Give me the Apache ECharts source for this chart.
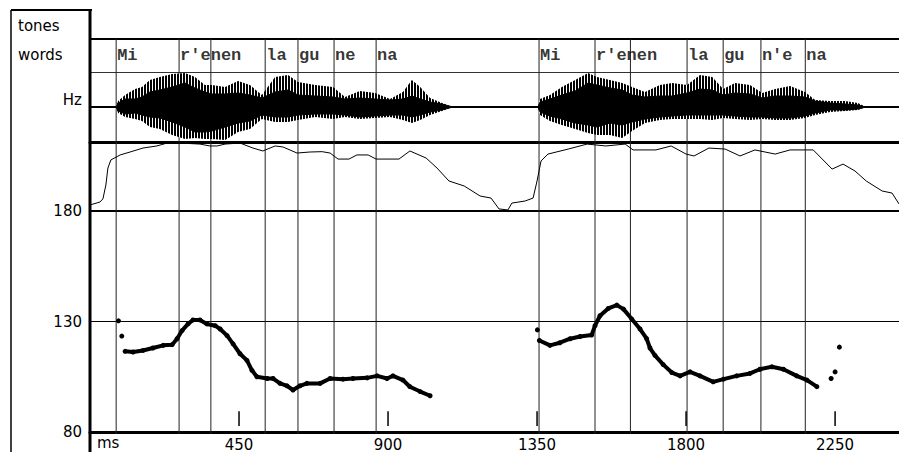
<!DOCTYPE html>
<html>
<head>
<meta charset="utf-8">
<script src="https://cdn.jsdelivr.net/npm/echarts@6/dist/echarts.min.js"></script>
<style>
  html, body { margin: 0; padding: 0; background: #fff; }
  #chart { width: 899px; height: 452px; }
</style>
</head>
<body>
<div id="chart"></div>
<script>
// time axis (ms)
const timeMax = 2443;
const tickMs = [450, 900, 1350, 1800, 2250];

// word boundaries and labels
const boundaryMs = [79, 269, 365, 529, 628, 737, 864, 1356, 1525, 1632, 1803, 1912, 2026, 2160];
const wordLabels = ['Mi', "r'enen", '', 'la', 'gu', 'ne', 'na', 'Mi', "r'enen", '', 'la', 'gu', "n'e", 'na'];

// waveform envelope (relative amplitude)
const waveMs = [0, 78, 85, 106, 136, 157, 181, 211, 248, 287, 317, 347, 368, 408, 447, 483, 519, 559, 598, 628,
  680, 734, 770, 815, 861, 906, 945, 972, 997, 1027, 1063, 1096, 1353, 1359, 1389, 1425, 1465, 1504, 1531, 1570,
  1607, 1637, 1676, 1721, 1758, 1803, 1842, 1879, 1912, 1948, 1993, 2030, 2069, 2114, 2159, 2190, 2235, 2280, 2319, 2343, 2443];
const spikeTop = [0, 0, 6, 12, 18, 20, 27, 30, 33, 34, 30, 22, 22, 20, 26, 22, 12, 30, 32, 25,
  22, 20, 10, 16, 14, 8, 15, 27, 20, 9, 4, 0, 0, 8, 12, 20, 27, 34, 30, 27,
  24, 20, 15, 22, 24, 22, 32, 30, 18, 24, 22, 14, 18, 21, 15, 7, 6, 6, 4, 0, 0];
const coreTop = [0, 0, 4, 8, 8, 10, 15, 17, 20, 24, 19, 15, 13, 13, 14, 12, 9, 15, 17, 12,
  11, 10, 8, 9, 8, 7, 8, 11, 8, 5, 3, 0, 0, 5, 8, 12, 16, 24, 22, 19,
  17, 12, 10, 11, 11, 14, 18, 17, 12, 14, 13, 9, 11, 11, 10, 6, 4, 3, 2, 0, 0];
const coreBottom = [0, 0, -4, -7, -6, -8, -10, -11, -15, -20, -25, -25, -24, -20, -16, -14, -8, -10, -10, -8,
  -7, -7, -8, -10, -9, -8, -8, -10, -8, -5, -3, 0, 0, -5, -9, -12, -16, -18, -20, -16,
  -18, -15, -12, -10, -9, -8, -8, -8, -8, -9, -10, -10, -11, -11, -9, -6, -3, -3, -2, 0, 0];
const spikeBottom = [0, 0, -6, -10, -12, -14, -20, -22, -28, -32, -31, -32, -32, -33, -25, -22, -12, -15, -15, -13,
  -10, -12, -10, -12, -11, -10, -13, -16, -13, -8, -4, 0, 0, -8, -14, -18, -22, -26, -28, -28,
  -31, -24, -16, -13, -12, -12, -12, -13, -11, -12, -13, -12, -13, -13, -11, -8, -5, -4, -3, 0, 0];

// intensity contour (dB)
const intensityMs = [0, 30, 39, 48, 54, 63, 91, 121, 160, 202, 233, 272, 332, 362, 384, 408, 453, 492, 522, 559,
  583, 625, 664, 701, 725, 749, 782, 806, 840, 864, 933, 966, 1015, 1048, 1084, 1130, 1178, 1211, 1235, 1262,
  1274, 1314, 1338, 1350, 1362, 1383, 1444, 1501, 1558, 1616, 1640, 1709, 1755, 1800, 1824, 1869, 1918, 1963, 2008, 2069,
  2114, 2184, 2241, 2274, 2310, 2344, 2392, 2422, 2443];
const intensityDb = [43.5, 45.2, 47.0, 55.1, 64.9, 69.6, 72.5, 74.2, 76.5, 77.7, 79.4, 79.4, 78.8, 77.7, 77.7, 78.8, 79.4, 76.5, 74.8, 77.7,
  77.1, 73.6, 74.2, 74.4, 73.6, 70.1, 70.1, 72.5, 72.5, 70.1, 70.1, 74.8, 70.7, 64.9, 57.4, 54.5, 48.7, 47.5, 41.2, 40.6,
  44.6, 45.8, 47.5, 57.4, 69.0, 73.0, 75.9, 78.8, 77.7, 78.8, 75.4, 75.4, 77.7, 73.0, 71.9, 76.5, 75.9, 71.9, 75.4, 73.0,
  75.4, 75.4, 64.3, 67.2, 63.2, 57.4, 51.6, 50.4, 44.1];

// pitch (Hz)
const pitch1Ms = [106, 130, 160, 190, 221, 248, 263, 278, 296, 311, 332, 353, 378, 393, 414, 432, 453, 474, 489, 504,
  535, 553, 574, 595, 613, 634, 655, 695, 725, 764, 794, 837, 867, 897, 915, 945, 966, 997, 1027];
const pitch1Hz = [116.5, 116.2, 116.9, 118.0, 119.2, 119.5, 122.2, 125.9, 128.9, 130.7, 130.7, 128.9, 128.1, 126.6, 123.6, 119.9, 115.4, 112.4, 107.9, 105.0,
  104.2, 104.2, 102.0, 100.9, 99.0, 100.9, 102.0, 102.0, 104.2, 103.9, 104.2, 104.5, 105.4, 104.2, 105.4, 103.5, 100.5, 98.3, 96.4];
const pitch2Ms = [1357, 1389, 1419, 1450, 1480, 1515, 1525, 1540, 1565, 1591, 1611, 1636, 1661, 1681, 1691, 1706, 1731, 1757, 1782, 1812,
  1842, 1882, 1913, 1953, 1993, 2023, 2059, 2094, 2134, 2165, 2195];
const pitch2Hz = [121.4, 119.2, 120.4, 122.2, 123.2, 123.9, 128.1, 132.6, 135.9, 137.4, 135.6, 131.1, 126.6, 122.2, 118.0, 114.7, 110.5, 106.9, 105.4, 107.2,
  105.4, 102.7, 103.9, 105.4, 106.5, 108.4, 109.5, 108.4, 105.4, 103.5, 100.5];
const strayMs = [86, 96, 1351, 2238, 2250, 2263];
const strayHz = [130.3, 123.4, 126.2, 104.2, 107.2, 118.4];

const zip = (xs, ys) => xs.map((x, i) => [x, ys[i]]);

const chart = echarts.init(document.getElementById('chart'), null, { renderer: 'svg' });

const font = 'DejaVu Sans';
const hidden = { axisLine: { show: false }, axisTick: { show: false }, axisLabel: { show: false }, splitLine: { show: false } };

function timeAxis(gridIndex, position, lineWidth, color) {
  return {
    type: 'value', gridIndex, position, min: 0, max: timeMax,
    axisLine: { show: lineWidth > 0, lineStyle: { color: color || '#000', width: lineWidth } },
    axisTick: { show: false }, axisLabel: { show: false }, splitLine: { show: false }
  };
}

const bottomAxis = timeAxis(4, 'bottom', 3);
bottomAxis.interval = 450;
bottomAxis.axisLabel = {
  show: true, color: '#000', fontFamily: font, fontSize: 15, margin: 5,
  showMaxLabel: false,
  formatter: v => (v === 0 ? '' : String(v))
};

// striped fill so the outer envelope reads as separate pitch-period spikes
const stripe = document.createElement('canvas');
stripe.width = 3;
stripe.height = 4;
const sctx = stripe.getContext('2d');
sctx.fillStyle = '#fff';
sctx.fillRect(0, 0, 3, 4);
sctx.fillStyle = '#000';
sctx.fillRect(0, 0, 2, 4);
const spikeFill = { image: stripe, repeat: 'repeat' };

function waveSeries(values, fill, z, outline) {
  return {
    type: 'line', xAxisIndex: 2, yAxisIndex: 2, data: zip(waveMs, values),
    symbol: 'none', silent: true, z,
    lineStyle: { color: '#000', width: 1, opacity: outline ? 1 : 0 },
    areaStyle: { color: fill, opacity: 1, origin: 0 }
  };
}

function pitchLine(ms, hz) {
  return {
    type: 'line', xAxisIndex: 5, yAxisIndex: 4, data: zip(ms, hz), z: 5,
    symbol: 'circle', symbolSize: 5, showSymbol: true, silent: true,
    itemStyle: { color: '#000', opacity: 1 },
    lineStyle: { color: '#000', width: 4 }
  };
}

const option = {
  animation: false,
  backgroundColor: '#fff',
  grid: [
    { left: 90, right: 0, top: 10, height: 29 },
    { left: 90, right: 0, top: 39, height: 33 },
    { left: 90, right: 0, top: 72, height: 70 },
    { left: 90, right: 0, top: 142, height: 69 },
    { left: 90, right: 0, top: 211, height: 223 },
    { left: 90, right: 0, top: 39, height: 395 }
  ],
  xAxis: [
    timeAxis(0, 'top', 2),
    timeAxis(1, 'top', 1, '#333'),
    timeAxis(2, 'top', 2),
    timeAxis(3, 'top', 3),
    timeAxis(4, 'top', 2),
    bottomAxis,
    timeAxis(5, 'top', 0)
  ],
  yAxis: [
    Object.assign({ type: 'value', gridIndex: 0, min: 0, max: 1 }, hidden),
    Object.assign({ type: 'value', gridIndex: 1, min: 0, max: 1 }, hidden),
    {
      type: 'value', gridIndex: 2, min: -35, max: 35, interval: 35,
      axisLine: { show: false }, axisTick: { show: false }, axisLabel: { show: false },
      splitLine: { show: true, lineStyle: { color: '#000', width: 1 } }
    },
    Object.assign({ type: 'value', gridIndex: 3, min: 40, max: 80 }, hidden),
    {
      type: 'value', gridIndex: 4, min: 80, max: 180, interval: 50,
      axisLine: { show: false }, axisTick: { show: false },
      axisLabel: { show: true, color: '#000', fontFamily: font, fontSize: 15, margin: 8 },
      splitLine: { show: true, lineStyle: { color: '#000', width: 1 } }
    },
    Object.assign({ type: 'value', gridIndex: 5, min: 0, max: 1 }, hidden)
  ],
  graphic: [
    { type: 'line', shape: { x1: 11, y1: 10, x2: 11, y2: 452 }, style: { stroke: '#000', lineWidth: 1.5 } },
    { type: 'line', shape: { x1: 11, y1: 10, x2: 92, y2: 10 }, style: { stroke: '#000', lineWidth: 2 } },
    { type: 'line', shape: { x1: 90, y1: 9, x2: 90, y2: 452 }, style: { stroke: '#000', lineWidth: 3 }, z: 10 },
    { type: 'text', x: 18, y: 26, style: { text: 'tones', font: '15px "DejaVu Sans"', fill: '#000', verticalAlign: 'middle' } },
    { type: 'text', x: 18, y: 55, style: { text: 'words', font: '15px "DejaVu Sans"', fill: '#000', verticalAlign: 'middle' } },
    { type: 'text', x: 82, y: 100, style: { text: 'Hz', font: '15px "DejaVu Sans"', fill: '#000', align: 'right', verticalAlign: 'middle' } },
    { type: 'text', x: 97, y: 443, style: { text: 'ms', font: '15px "DejaVu Sans"', fill: '#000', verticalAlign: 'middle' } }
  ],
  series: [
    // word boundaries
    {
      type: 'custom', xAxisIndex: 6, yAxisIndex: 5, z: 1, silent: true,
      data: boundaryMs.map(t => [t, 0]),
      renderItem: (params, api) => {
        const a = api.coord([api.value(0), 0]);
        const b = api.coord([api.value(0), 1]);
        return { type: 'line', shape: { x1: a[0], y1: a[1], x2: b[0], y2: b[1] }, style: { stroke: '#222', lineWidth: 1 } };
      }
    },
    // word labels
    {
      type: 'scatter', xAxisIndex: 1, yAxisIndex: 1, symbolSize: 0, silent: true,
      data: boundaryMs.map((t, i) => ({ value: [t, 0.5], name: wordLabels[i] })),
      label: {
        show: true, position: 'right', distance: 1, formatter: '{b}',
        fontFamily: 'Liberation Mono', fontWeight: 'bold', fontSize: 17, color: '#000'
      }
    },
    waveSeries(spikeTop, spikeFill, 2, false),
    waveSeries(spikeBottom, spikeFill, 2, false),
    waveSeries(coreTop, '#000', 3, true),
    waveSeries(coreBottom, '#000', 3, true),
    // intensity
    {
      type: 'line', xAxisIndex: 3, yAxisIndex: 3, data: zip(intensityMs, intensityDb),
      symbol: 'none', silent: true, z: 4,
      lineStyle: { color: '#000', width: 1 }
    },
    pitchLine(pitch1Ms, pitch1Hz),
    pitchLine(pitch2Ms, pitch2Hz),
    {
      type: 'scatter', xAxisIndex: 5, yAxisIndex: 4, data: zip(strayMs, strayHz),
      symbolSize: 5, itemStyle: { color: '#000', opacity: 1 }, silent: true, z: 5
    },
    // time ticks inside the pitch panel
    {
      type: 'custom', xAxisIndex: 5, yAxisIndex: 4, silent: true, z: 5,
      data: tickMs.map(t => [t, 85]),
      renderItem: (params, api) => {
        const a = api.coord([api.value(0), 82.7]);
        const b = api.coord([api.value(0), 89.4]);
        return { type: 'line', shape: { x1: a[0], y1: a[1], x2: b[0], y2: b[1] }, style: { stroke: '#000', lineWidth: 1.5 } };
      }
    }
  ]
};

chart.setOption(option);
</script>
</body>
</html>
